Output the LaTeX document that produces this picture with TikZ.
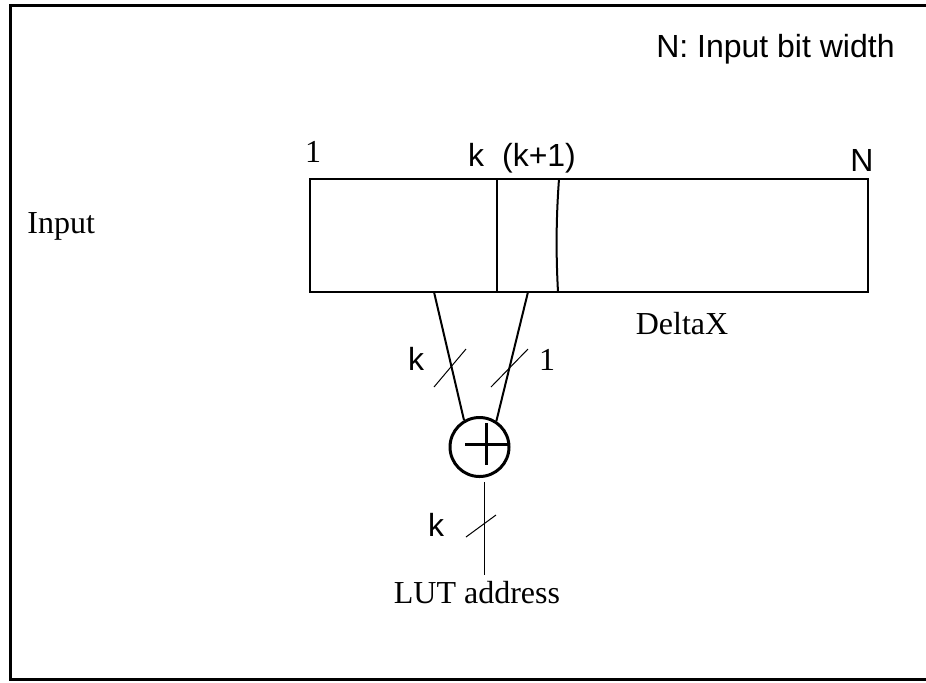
\documentclass[tikz,border=0pt]{standalone}
\usepackage{fontspec}
\setmainfont{Liberation Serif}
\setsansfont{Liberation Sans}
\usetikzlibrary{positioning}
\tikzset{
  every picture/.style = {
    x=0.5pt, y=-0.5pt
  },
  frame/.style={
    line width=1.5pt
  },
  bus/.style={
    line width=1pt
  },
  busmark/.style={
    line width=0.5pt
  },
  serif/.style={
    anchor=base,
    inner sep=0pt,
    font=\fontsize{16}{19}\selectfont\rmfamily
  },
  sans/.style={
    anchor=base,
    inner sep=0pt,
    font=\fontsize{16}{19}\selectfont\sffamily
  },
  adder/.style={
    draw,
    circle,
    line width=1.5pt,
    minimum size=29.5pt,
    inner sep=0pt
  }
}

\begin{document}
\begin{tikzpicture}
    \useasboundingbox (0,0) rectangle (926,682);
    \draw[frame] (926,5) -- (10,5) -- (10,679) -- (926,679);
    \node[sans, anchor=base east] (legend) at (895,57) {N: Input bit width};
    \node[serif, anchor=base west] (input) at (27,233) {Input};
    % register
    \draw[line width=0.75pt] (310,179) rectangle (868,292);
    \draw[bus] (497,179) -- (497,292);
    \draw[bus] (559,179) .. controls (556,220) and (556,255) .. (558,292);
    \node[serif] (bitone) at (313,162) {1};
    \node[sans] (bitk) at (476,166) {k};
    \node[sans] (bitkk) at (539,166) {(k+1)};
    \node[sans] (bitn) at (862,171) {N};
    \node[serif] (delta) at (682,334) {DeltaX};
    % adder
    \node[adder] (xor) at (479.5,447) {};
    \draw[line width=1.5pt] ([shift={(-14.5,-3)}]xor.center) --++ (43,0);
    \draw[line width=1.5pt] ([shift={(6.5,-24)}]xor.center) --++ (0,42);
    \coordinate (kbit) at (434,292);
    \coordinate (kone) at (528,292);
    \draw[bus] (kbit) -- (xor.120);
    \draw[bus] (kone) -- (xor.57);
    \draw[busmark] (434,387) -- (466,349);
    \draw[busmark] (491,387) -- (528,349);
    \node[sans] (lblk) at (416,370) {k};
    \node[serif] (lblone) at (547,370) {1};
    % output
    \coordinate (sum) at (484,482);
    \coordinate (addr) at (484,575);
    \draw[busmark] (sum) -- (addr);
    \draw[busmark] (466,537) -- (496,515);
    \node[sans] (lblkout) at (436,536) {k};
    \node[serif] (lut) at (477,603) {LUT address};
\end{tikzpicture}
\end{document}
